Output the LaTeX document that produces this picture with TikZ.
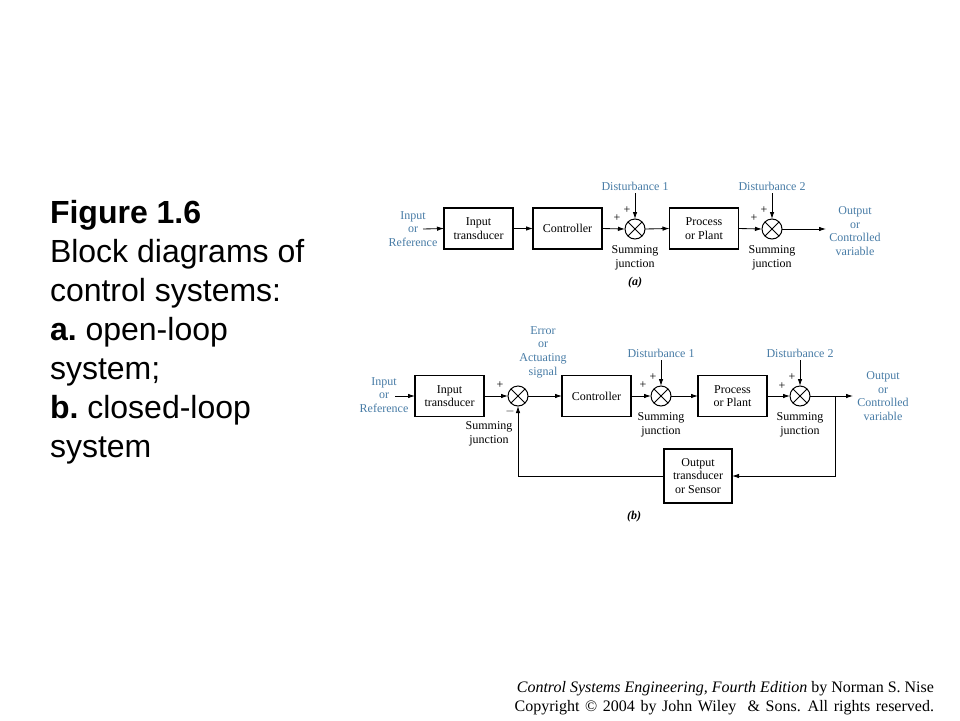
\documentclass[tikz,border=0pt]{standalone}
\usepackage{fontspec}
\setmainfont{Liberation Serif}
\newfontfamily\arialf{Liberation Sans}
\usetikzlibrary{arrows.meta,calc}
\definecolor{lblue}{RGB}{72,124,166}
\begin{document}
\begin{tikzpicture}[x=1pt,y=-1pt,
  every node/.style={inner sep=0pt, outer sep=0pt},
  dfont/.style={font=\fontsize{12}{13.6}\selectfont},
  blk/.style={draw, line width=1.2pt, minimum width=69pt, minimum height=41pt, align=center, dfont},
  sj/.style={draw, line width=1pt, circle, minimum size=20pt,
    path picture={\draw[line width=1pt]
      (path picture bounding box.north west)--(path picture bounding box.south east)
      (path picture bounding box.north east)--(path picture bounding box.south west);}},
  bluetxt/.style={dfont, text=lblue, align=center},
  blktxt/.style={dfont, align=center},
  sgn/.style={font=\fontsize{12}{13}\selectfont},
  arr/.style={-{Latex[length=7pt,width=4.5pt]}, line width=0.85pt},
  ttl/.style={anchor=base west, font=\arialf\fontsize{32}{38}\selectfont},
  foot/.style={anchor=base east, font=\fontsize{16}{18}\selectfont}
]
\useasboundingbox[fill=white] (0,0) rectangle (960,720);

% ---------- title ----------
\node[ttl] (t1) at (50,223) {\bfseries Figure 1.6};
\node[ttl] (t2) at (50,262) {Block diagrams of};
\node[ttl] (t3) at (50,301) {control systems:};
\node[ttl] (t4) at (50,340) {\bfseries a.\mdseries\ open-loop};
\node[ttl] (t5) at (50,379) {system;};
\node[ttl] (t6) at (50,418) {\bfseries b.\mdseries\ closed-loop};
\node[ttl] (t7) at (50,457) {system};

% ---------- footer ----------
\node[foot] (f1) at (934,692) {\textit{Control Systems Engineering, Fourth Edition} by Norman S. Nise};
\node[foot] (f2) at (934,711) {\spaceskip=5.6pt Copyright \textcopyright{} 2004 by John Wiley \ \& Sons. All rights reserved.};

% ---------- diagram (a) ----------
\node[bluetxt] (inA) at (413,229) {Input\\or\\Reference};
\coordinate (inAe) at (423,229);
\node[blk] (itA) at (478.5,228.5) {Input\\transducer};
\node[blk] (ctA) at (567.5,228.5) {Controller};
\node[sj] (s1A) at (635,229) {};
\node[bluetxt] (d1A) at (635,186) {Disturbance 1};
\coordinate (d1Ae) at (635,193);
\node[blk] (plA) at (704,228.5) {Process\\or Plant};
\node[sj] (s2A) at (772,229) {};
\node[bluetxt] (d2A) at (772,186) {Disturbance 2};
\coordinate (d2Ae) at (772,193);
\coordinate (outAe) at (826,229);
\node[bluetxt] (outA) at (855,231) {Output\\or\\Controlled\\variable};
\node[blktxt] (j1A) at (635,258) {Summing\\junction};
\node[blktxt] (j2A) at (772,258) {Summing\\junction};
\node[blktxt] (capA) at (635,283) {\textbf{\textit{(a)}}};
\node[sgn] (p1A) at (617,218) {+};
\node[sgn] (p2A) at (627,210) {+};
\node[sgn] (p3A) at (754,218) {+};
\node[sgn] (p4A) at (764,210) {+};

\draw[arr] (inAe) -- (itA.west);
\draw[arr] (itA.east) -- (ctA.west);
\draw[arr] (ctA.east) -- (s1A.west);
\draw[arr] (d1Ae) -- (s1A.north);
\draw[arr] (s1A.east) -- (plA.west);
\draw[arr] (plA.east) -- (s2A.west);
\draw[arr] (d2Ae) -- (s2A.north);
\draw[arr] (s2A.east) -- (outAe);

% ---------- diagram (b) ----------
\node[bluetxt] (inB) at (384,395) {Input\\or\\Reference};
\coordinate (inBe) at (395,396);
\node[blk] (itB) at (449.5,396) {Input\\transducer};
\node[sj] (sB) at (518,396) {};
\node[bluetxt] (errB) at (543,352) {Error\\or\\Actuating\\signal};
\node[blk] (ctB) at (596.5,396) {Controller};
\node[sj] (s1B) at (661,396) {};
\node[bluetxt] (d1B) at (661,353) {Disturbance 1};
\coordinate (d1Be) at (661,360);
\node[blk] (plB) at (732.5,396) {Process\\or Plant};
\node[sj] (s2B) at (800,396) {};
\node[bluetxt] (d2B) at (800,353) {Disturbance 2};
\coordinate (d2Be) at (800,360);
\coordinate (brB) at (835,396);
\coordinate (outBe) at (853,396);
\node[bluetxt] (outB) at (883,396) {Output\\or\\Controlled\\variable};
\node[blk, minimum width=68pt, minimum height=54pt] (senB) at (698,476) {Output\\transducer\\or Sensor};
\node[blktxt] (jB) at (489,434) {Summing\\junction};
\node[blktxt] (j1B) at (661,425) {Summing\\junction};
\node[blktxt] (j2B) at (800,425) {Summing\\junction};
\node[blktxt] (capB) at (634,517) {\textbf{\textit{(b)}}};
\node[sgn] (pB) at (500,385) {+};
\node[sgn] (mB) at (510,411) {$-$};
\node[sgn] (p1B) at (643,385) {+};
\node[sgn] (p2B) at (653,377) {+};
\node[sgn] (p3B) at (782,386) {+};
\node[sgn] (p4B) at (792,377) {+};

\draw[arr] (inBe) -- (itB.west);
\draw[arr] (itB.east) -- (sB.west);
\draw[arr] (sB.east) -- (ctB.west);
\draw[arr] (ctB.east) -- (s1B.west);
\draw[arr] (d1Be) -- (s1B.north);
\draw[arr] (s1B.east) -- (plB.west);
\draw[arr] (plB.east) -- (s2B.west);
\draw[arr] (d2Be) -- (s2B.north);
\draw[arr] (s2B.east) -- (outBe);
\draw[arr] (brB) |- (senB.east);
\draw[arr] (senB.west) -| (sB.south);
\end{tikzpicture}
\end{document}
